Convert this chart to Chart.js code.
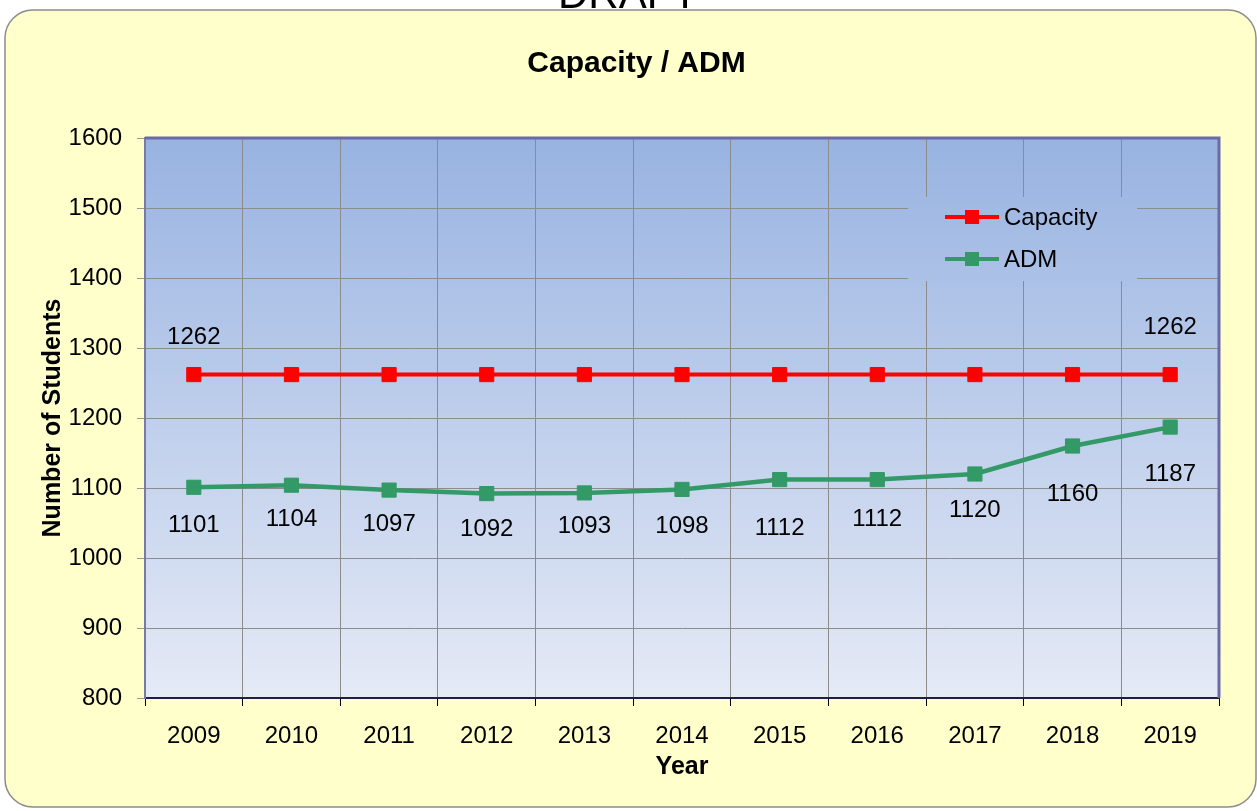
<!DOCTYPE html>
<html>
<head>
<meta charset="utf-8">
<script src="https://cdn.jsdelivr.net/npm/chart.js@4/dist/chart.umd.min.js"></script>
<style>
  html, body { margin: 0; padding: 0; background: #fff; }
  #wrap { width: 1257px; height: 811px; }
</style>
</head>
<body>
<div id="wrap"><canvas id="capChart" width="1257" height="811"></canvas></div>
<script>
const years = ['2009', '2010', '2011', '2012', '2013', '2014', '2015', '2016', '2017', '2018', '2019'];
const capacity = [1262, 1262, 1262, 1262, 1262, 1262, 1262, 1262, 1262, 1262, 1262];
const adm = [1101, 1104, 1097, 1092, 1093, 1098, 1112, 1112, 1120, 1160, 1187];
const yMin = 800;
const yMax = 1600;
const yStep = 100;

// where the value labels sit relative to each point (px, + is down); null = no label
const capLabelDy = [-37, null, null, null, null, null, null, null, null, null, -47];
const admLabelDy = [38, 34, 34, 36, 33, 37, 49, 40, 36, 48, 47];

Chart.defaults.font.family = "'Liberation Sans', Arial, sans-serif";
Chart.defaults.color = '#000';

function roundedRect(ctx, x, y, w, h, r) {
    ctx.beginPath();
    ctx.moveTo(x + r, y);
    ctx.lineTo(x + w - r, y);
    ctx.arcTo(x + w, y, x + w, y + r, r);
    ctx.lineTo(x + w, y + h - r);
    ctx.arcTo(x + w, y + h, x + w - r, y + h, r);
    ctx.lineTo(x + r, y + h);
    ctx.arcTo(x, y + h, x, y + h - r, r);
    ctx.lineTo(x, y + r);
    ctx.arcTo(x, y, x + r, y, r);
    ctx.closePath();
}

const decor = {
    id: 'decor',
    beforeDraw(chart) {
        const { ctx, chartArea: a, width, height } = chart;
        ctx.save();
        ctx.fillStyle = '#fff';
        ctx.fillRect(0, 0, width, height);

        roundedRect(ctx, 5, 10, 1251, 797, 28);
        ctx.fillStyle = '#FFFFCC';
        ctx.fill();
        ctx.lineWidth = 1.5;
        ctx.strokeStyle = '#8c8c8c';
        ctx.stroke();

        // watermark cut off at the top edge
        ctx.fillStyle = '#000';
        ctx.font = "42px 'Liberation Sans', Arial, sans-serif";
        ctx.textAlign = 'center';
        ctx.textBaseline = 'alphabetic';
        ctx.fillText('DRAFT', 628, 8);

        const g = ctx.createLinearGradient(0, a.top, 0, a.bottom);
        g.addColorStop(0, '#98B3E1');
        g.addColorStop(1, '#E5EAF6');
        chart.$plotFill = g;
        ctx.fillStyle = g;
        ctx.fillRect(a.left, a.top, a.right - a.left, a.bottom - a.top);
        ctx.restore();
    },
    beforeDatasetsDraw(chart) {
        const { ctx, chartArea: a } = chart;
        ctx.save();
        ctx.strokeStyle = '#6A6AA8';
        ctx.lineWidth = 3;
        ctx.beginPath();
        ctx.moveTo(a.left, a.top);
        ctx.lineTo(a.right, a.top);
        ctx.lineTo(a.right, a.bottom);
        ctx.stroke();
        ctx.restore();
    },
    afterDatasetsDraw(chart) {
        const { ctx } = chart;
        ctx.save();
        ctx.font = "24px 'Liberation Sans', Arial, sans-serif";
        ctx.fillStyle = '#000';
        ctx.textAlign = 'center';
        ctx.textBaseline = 'middle';
        [capLabelDy, admLabelDy].forEach((dys, di) => {
            const meta = chart.getDatasetMeta(di);
            const vals = chart.data.datasets[di].data;
            meta.data.forEach((pt, i) => {
                if (dys[i] === null) return;
                ctx.fillText(String(vals[i]), pt.x, pt.y + dys[i]);
            });
        });

        // legend box inside the plot
        ctx.fillStyle = chart.$plotFill;
        ctx.fillRect(908, 197, 229, 84);
        const items = [
            { label: chart.data.datasets[0].label, color: chart.data.datasets[0].borderColor, y: 217 },
            { label: chart.data.datasets[1].label, color: chart.data.datasets[1].borderColor, y: 259 }
        ];
        items.forEach(it => {
            ctx.strokeStyle = it.color;
            ctx.lineWidth = 4;
            ctx.beginPath();
            ctx.moveTo(945, it.y);
            ctx.lineTo(999, it.y);
            ctx.stroke();
            ctx.fillStyle = it.color;
            ctx.fillRect(965, it.y - 7, 14, 14);
            ctx.fillStyle = '#000';
            ctx.textAlign = 'left';
            ctx.fillText(it.label, 1004, it.y + 1);
        });
        ctx.restore();
    }
};

const tickFont = { size: 24 };
const axisTitleFont = { size: 25, weight: 'bold' };

new Chart(document.getElementById('capChart'), {
    type: 'line',
    data: {
        labels: years,
        datasets: [
            {
                label: 'Capacity',
                data: capacity,
                borderColor: '#FF0000',
                backgroundColor: '#FF0000',
                borderWidth: 4,
                pointStyle: 'rect',
                pointRadius: 10,
                pointBorderWidth: 1,
                tension: 0
            },
            {
                label: 'ADM',
                data: adm,
                borderColor: '#339966',
                backgroundColor: '#339966',
                borderWidth: 4.5,
                pointStyle: 'rect',
                pointRadius: 10,
                pointBorderWidth: 1,
                tension: 0
            }
        ]
    },
    options: {
        responsive: false,
        animation: false,
        events: [],
        layout: { padding: { left: 54, right: 38, top: 0, bottom: 29 } },
        plugins: {
            legend: { display: false },
            tooltip: { enabled: false },
            title: {
                display: true,
                text: 'Capacity / ADM',
                font: { size: 30, weight: 'bold' },
                color: '#000',
                padding: { top: 46, bottom: 56 }
            }
        },
        scales: {
            x: {
                offset: true,
                afterFit(scale) { scale.height = 811 - 698 - 29; },
                grid: { offset: true, color: '#8c8c8c', lineWidth: 1, tickColor: '#000', tickLength: 8 },
                border: { color: '#1f1f46', width: 2 },
                ticks: { font: tickFont, padding: 16, maxRotation: 0, autoSkip: false },
                title: { display: true, text: 'Year', font: axisTitleFont, padding: { top: 4, bottom: 0 } }
            },
            y: {
                min: yMin,
                max: yMax,
                afterFit(scale) { scale.width = 145 - 54; },
                grid: { color: '#8c8c8c', lineWidth: 1, tickColor: '#999', tickLength: 8 },
                border: { color: '#7a7aa6', width: 2 },
                ticks: { stepSize: yStep, font: tickFont, padding: 15, callback: v => String(v) },
                title: { display: true, text: 'Number of Students', font: axisTitleFont, padding: { top: -16, bottom: 0 } }
            }
        }
    },
    plugins: [decor]
});
</script>
</body>
</html>
